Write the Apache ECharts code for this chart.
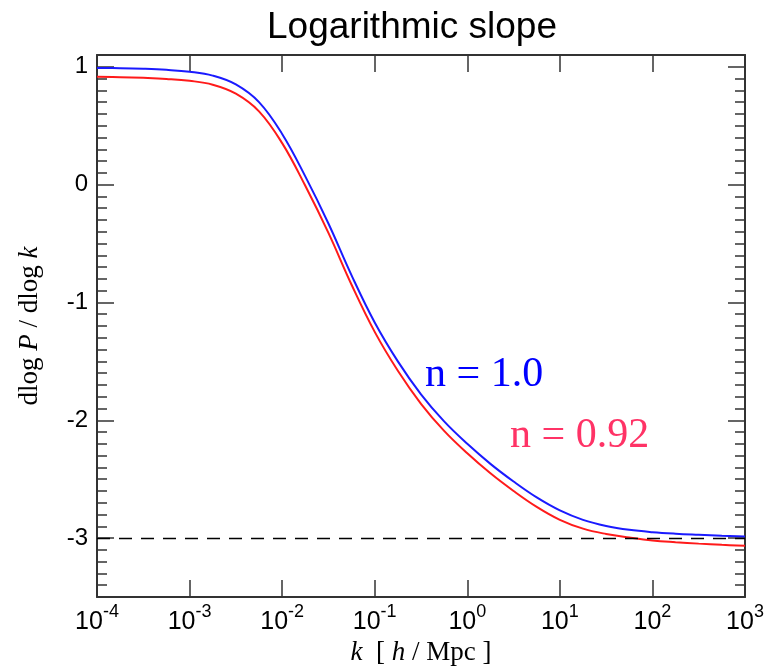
<!DOCTYPE html>
<html>
<head>
<meta charset="utf-8">
<script src="https://cdn.jsdelivr.net/npm/echarts@6/dist/echarts.min.js"></script>
<style>
html,body{margin:0;padding:0;background:#fff;}
#chart{width:781px;height:666px;}
</style>
</head>
<body>
<div id="chart"></div>
<script>
// log10(k) sample positions
var logK = [-4, -3.75, -3.5, -3.25, -3, -2.75, -2.5, -2.25, -2, -1.75, -1.5, -1.25, -1, -0.75, -0.5, -0.25, 0, 0.25, 0.5, 0.75, 1, 1.25, 1.5, 1.75, 2, 2.25, 2.5, 2.75, 3];
// dlogP/dlogk, n = 1.0 (blue)
var slopeN100 = [0.99, 0.988, 0.983, 0.974, 0.958, 0.925, 0.85, 0.70, 0.43, 0.07, -0.33, -0.77, -1.17, -1.50, -1.78, -2.01, -2.20, -2.37, -2.52, -2.655, -2.765, -2.845, -2.897, -2.93, -2.95, -2.963, -2.972, -2.98, -2.986];
// dlogP/dlogk, n = 0.92 (red)
var slopeN092 = [0.915, 0.912, 0.906, 0.897, 0.881, 0.848, 0.772, 0.622, 0.352, -0.01, -0.41, -0.85, -1.25, -1.58, -1.86, -2.09, -2.28, -2.45, -2.60, -2.735, -2.845, -2.92, -2.965, -2.995, -3.02, -3.035, -3.047, -3.057, -3.065];
// reference level
var asymptote = -3;
// tick labels
var xTickExponents = [-4, -3, -2, -1, 0, 1, 2, 3];
var yMajorTicks = [-3, -2, -1, 0, 1];
var yMinorStep = 0.1;
var yRange = [-3.5, 1.1];

var yMinorTicks = [];
for (var i = Math.round(yRange[0] / yMinorStep) + 1; i * yMinorStep < yRange[1] - 1e-9; i++) {
  var v = Math.round(i * yMinorStep * 10) / 10;
  if (Math.abs(v - Math.round(v)) > 1e-6) yMinorTicks.push(v);
}

function pts(arr) {
  return logK.map(function (e, i) { return [Math.pow(10, e), arr[i]]; });
}

var axisColor = '#333';
var serif = 'Liberation Serif, Times New Roman, serif';
var sans = 'Liberation Sans, Arial, sans-serif';
var chart = echarts.init(document.getElementById('chart'), null, {renderer: 'canvas'});

function xAxisCfg(pos, showLabel) {
  return {
    type: 'log', logBase: 10, position: pos,
    min: Math.pow(10, xTickExponents[0]), max: Math.pow(10, xTickExponents[xTickExponents.length - 1]),
    splitNumber: xTickExponents.length - 1,
    axisLine: {show: true, onZero: false, lineStyle: {color: axisColor, width: 2}},
    axisTick: {show: true, inside: true, length: 17, lineStyle: {color: axisColor, width: 1.5}},
    minorTick: {show: false},
    splitLine: {show: false},
    axisLabel: {
      show: showLabel, margin: 6,
      formatter: function (val) {
        var e = Math.round(Math.log(val) / Math.LN10);
        return '{b|10}{s|' + e + '}';
      },
      rich: {
        b: {fontSize: 25, fontFamily: sans, color: '#000', lineHeight: 26, padding: [12, 0, 0, 0]},
        s: {fontSize: 18, fontFamily: sans, color: '#000', lineHeight: 18, verticalAlign: 'top'}
      }
    }
  };
}

function yAxisCfg(pos, ticks, len, showLabel, showLine) {
  return {
    type: 'value', position: pos, offset: 0,
    min: yRange[0], max: yRange[1],
    axisLine: {show: showLine, onZero: false, lineStyle: {color: axisColor, width: 2}},
    axisTick: {show: true, inside: true, length: len, customValues: ticks, lineStyle: {color: axisColor, width: 1.5}},
    splitLine: {show: false},
    axisLabel: {
      show: showLabel, customValues: ticks, margin: 9,
      fontSize: 24, fontFamily: sans, color: '#000'
    }
  };
}

var nameRich = {
  r: {fontSize: 27, fontFamily: serif, color: '#000'},
  i: {fontSize: 27, fontFamily: serif, fontStyle: 'italic', color: '#000'}
};

var yMain = yAxisCfg('left', yMajorTicks, 17, true, true);
yMain.name = '{r|dlog }{i|P}{r| / dlog }{i|k}';
yMain.nameLocation = 'middle';
yMain.nameGap = 54;
yMain.nameTextStyle = {rich: nameRich};

var xMain = xAxisCfg('bottom', true);
xMain.name = '{i|k}{r|  [ }{i|h}{r| / Mpc ]}';
xMain.nameLocation = 'middle';
xMain.nameGap = 35;
xMain.nameTextStyle = {rich: nameRich};

var option = {
  backgroundColor: '#fff',
  animation: false,
  grid: {left: 97, right: 36, top: 55, bottom: 69, containLabel: false, outerBoundsMode: 'none'},
  xAxis: [xMain, xAxisCfg('top', false)],
  yAxis: [
    yMain,
    yAxisCfg('left', yMinorTicks, 10, false, false),
    yAxisCfg('right', yMajorTicks, 17, false, true),
    yAxisCfg('right', yMinorTicks, 10, false, false)
  ],
  graphic: [
    {type: 'text', left: 267, top: 9, style: {text: 'Logarithmic slope', fontSize: 37, fontFamily: sans, fill: '#000'}},
    {type: 'text', left: 425, top: 354, style: {text: 'n = 1.0', fontSize: 42, fontFamily: serif, fill: '#0000ff'}},
    {type: 'text', left: 510, top: 415, style: {text: 'n = 0.92', fontSize: 42, fontFamily: serif, fill: '#ff3366'}}
  ],
  series: [
    {
      name: 'n = 1.0', type: 'line', xAxisIndex: 0, yAxisIndex: 0,
      data: pts(slopeN100), smooth: 0.4, showSymbol: false,
      lineStyle: {color: '#1a1aff', width: 2}, z: 3,
      markLine: {
        silent: true, symbol: 'none', label: {show: false},
        lineStyle: {color: '#000', width: 1.3, type: [13, 9]},
        data: [{yAxis: asymptote}]
      }
    },
    {
      name: 'n = 0.92', type: 'line', xAxisIndex: 0, yAxisIndex: 0,
      data: pts(slopeN092), smooth: 0.4, showSymbol: false,
      lineStyle: {color: '#ff1a1a', width: 2}, z: 3
    }
  ]
};
chart.setOption(option);
</script>
</body>
</html>
